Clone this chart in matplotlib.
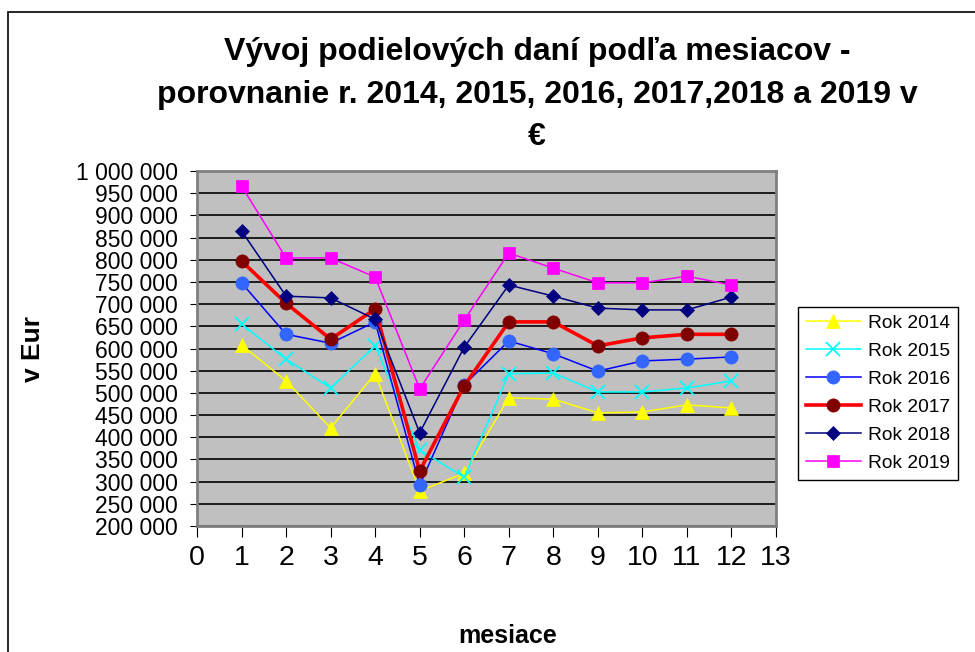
import matplotlib
matplotlib.use("Agg")
import matplotlib.pyplot as plt
import matplotlib.patches as patches
from matplotlib.ticker import FuncFormatter

plt.rcParams['font.family'] = ['Liberation Sans', 'DejaVu Sans']

months = [1, 2, 3, 4, 5, 6, 7, 8, 9, 10, 11, 12]

rok_2014 = [608000, 527000, 421000, 543000, 279000, 319000, 489000, 486000, 455000, 457000, 473000, 466000]
rok_2015 = [655000, 576000, 511000, 606000, 371000, 310000, 543000, 545000, 502000, 502000, 511000, 527000]
rok_2016 = [748000, 632000, 612000, 660000, 292000, 518000, 617000, 588000, 549000, 572000, 576000, 581000]
rok_2017 = [797000, 702000, 621000, 689000, 324000, 516000, 660000, 660000, 606000, 624000, 632000, 632000]
rok_2018 = [865000, 718000, 714000, 666000, 410000, 603000, 743000, 718000, 691000, 687000, 687000, 716000]
rok_2019 = [966000, 804000, 804000, 761000, 509000, 664000, 815000, 781000, 748000, 748000, 763000, 743000]

labels = ['Rok 2014', 'Rok 2015', 'Rok 2016', 'Rok 2017', 'Rok 2018', 'Rok 2019']

fig = plt.figure(figsize=(9.75, 6.52), dpi=100)
ax = fig.add_axes([197 / 975, 126 / 652, 579 / 975, 355 / 652])
ax.set_facecolor('#C0C0C0')

# series: values, line colour, marker, marker colour, line width, marker size
series = [
    (rok_2014, '#FFFF00', '^', '#FFFF00', 1.1, 10),
    (rok_2015, '#00FFFF', 'x', '#00FFFF', 1.1, 10),
    (rok_2016, '#0000FF', 'o', '#3366FF', 1.1, 9.5),
    (rok_2017, '#FF0000', 'o', '#800000', 2.6, 9.5),
    (rok_2018, '#000080', 'D', '#000080', 1.1, 7.5),
    (rok_2019, '#FF00FF', 's', '#FF00FF', 1.1, 9),
]
for (vals, lc, mk, mc, lw, ms), lab in zip(series, labels):
    ax.plot(months, vals, color=lc, lw=lw, marker=mk, ms=ms,
            markerfacecolor=mc, markeredgecolor=mc, mew=1.3 if mk == 'x' else 0.5,
            label=lab, zorder=3)

ax.set_xlim(0, 13)
ax.set_ylim(200000, 1000000)
ax.set_xticks(range(0, 14))
ax.set_yticks(range(200000, 1000001, 50000))
ax.yaxis.set_major_formatter(FuncFormatter(lambda v, p: f"{int(v):,}".replace(",", " ")))
ax.grid(axis='y', color='black', lw=1.2, zorder=1)
ax.set_axisbelow(True)
ax.tick_params(axis='y', labelsize=16.5, length=5, color='black', pad=9)
ax.tick_params(axis='x', labelsize=20.5, length=8, color='black', pad=6)
for sp in ax.spines.values():
    sp.set_color('#808080')
    sp.set_linewidth(2)

fig.text(537 / 975, 1 - 52 / 652, 'Vývoj podielových daní podľa mesiacov -',
         ha='center', va='center', fontsize=23, fontweight='bold')
fig.text(537 / 975, 1 - 95 / 652, 'porovnanie r. 2014, 2015, 2016, 2017,2018 a 2019 v',
         ha='center', va='center', fontsize=23, fontweight='bold')
fig.text(537 / 975, 1 - 137 / 652, '€',
         ha='center', va='center', fontsize=23, fontweight='bold')

fig.text(33 / 975, 1 - 349 / 652, 'v Eur', rotation=90, ha='center', va='center',
         fontsize=19, fontweight='bold')
fig.text(508 / 975, 1 - 636 / 652, 'mesiace', ha='center', va='center',
         fontsize=18, fontweight='bold')

leg = fig.legend(loc='upper left', bbox_to_anchor=(798 / 975, 1 - 307 / 652),
                 fontsize=13.8, frameon=True, fancybox=False, edgecolor='black',
                 framealpha=1, borderpad=0.4, labelspacing=0.55, handlelength=2.9,
                 handletextpad=0.35, borderaxespad=0)
leg.get_frame().set_linewidth(1)

# outer chart border (only left and top edges visible)
fig.patches.append(patches.Rectangle((8 / 975, -0.1), 1.2, 1 - 12 / 652 + 0.1,
                                     transform=fig.transFigure, fill=False,
                                     edgecolor='black', lw=1.2))

fig.savefig('out.png', dpi=100)
